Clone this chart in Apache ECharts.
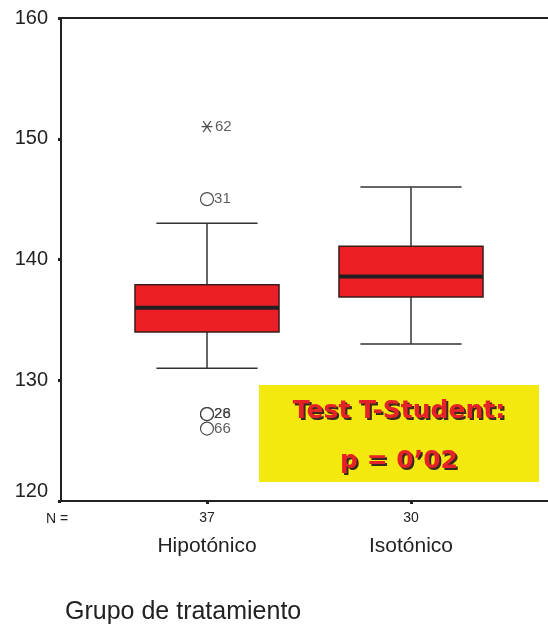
<!DOCTYPE html>
<html>
<head>
<meta charset="utf-8">
<script src="https://cdn.jsdelivr.net/npm/echarts@6/dist/echarts.min.js"></script>
<style>
html,body{margin:0;padding:0;background:#fff;}
#chart{width:548px;height:628px;}
</style>
</head>
<body>
<div id="chart"></div>
<script>
// ---- data ----
var categories = ['Hipotónico', 'Isotónico'];
var groupN = [37, 30];
var categoryPos = [1, 2];
// [low whisker, Q1, median, Q3, high whisker]
var boxHipotonico = [131, 134, 136, 137.9, 143];
var boxIsotonico = [133, 136.9, 138.6, 141.1, 146];
// outliers (Hipotónico): value, case id
var outlierValues = [145, 127.2, 127.2, 126];
var outlierIds = ['31', '28', '26', '66'];
// extreme values (Hipotónico)
var extremeValues = [151];
var extremeIds = ['62'];
var yTicks = [120, 130, 140, 150, 160];

var boxes = [boxHipotonico, boxIsotonico];
var boxData = boxes.map(function (b, i) { return [categoryPos[i]].concat(b); });
var outData = outlierValues.map(function (v, i) { return { value: [categoryPos[0], v], name: outlierIds[i] }; });
var extData = extremeValues.map(function (v, i) { return { value: [categoryPos[0], v], name: extremeIds[i] }; });

var chart = echarts.init(document.getElementById('chart'));
var FONT = 'Liberation Sans, Arial, sans-serif';
var BOXFONT = 'DejaVu Sans, Liberation Sans, sans-serif';

function renderBox(params, api) {
  var x = api.value(0);
  var low = api.coord([x, api.value(1)]);
  var q1 = api.coord([x, api.value(2)]);
  var med = api.coord([x, api.value(3)]);
  var q3 = api.coord([x, api.value(4)]);
  var high = api.coord([x, api.value(5)]);
  var halfW = api.size([0.353, 0])[0];
  var capW = api.size([0.248, 0])[0];
  var cx = q1[0];
  var lineStyle = { stroke: '#333', lineWidth: 1.5 };
  return {
    type: 'group',
    children: [
      { type: 'line', shape: { x1: cx, y1: q3[1], x2: cx, y2: high[1] }, style: lineStyle },
      { type: 'line', shape: { x1: cx, y1: q1[1], x2: cx, y2: low[1] }, style: lineStyle },
      { type: 'line', shape: { x1: cx - capW, y1: high[1], x2: cx + capW, y2: high[1] }, style: lineStyle },
      { type: 'line', shape: { x1: cx - capW, y1: low[1], x2: cx + capW, y2: low[1] }, style: lineStyle },
      { type: 'rect', shape: { x: cx - halfW, y: q3[1], width: halfW * 2, height: q1[1] - q3[1] },
        style: { fill: '#ed1f26', stroke: '#3a1c1c', lineWidth: 1.5 } },
      { type: 'line', shape: { x1: cx - halfW, y1: med[1], x2: cx + halfW, y2: med[1] },
        style: { stroke: '#231f20', lineWidth: 4 } }
    ]
  };
}

function boxText(txt, y, dx, dy, color, z) {
  return { type: 'text', x: 399 + dx, y: y + dy, z: z,
    style: { text: txt, fontSize: 25, fontWeight: 'bold', fill: color, align: 'center', verticalAlign: 'middle', fontFamily: BOXFONT } };
}

var option = {
  animation: false,
  backgroundColor: '#ffffff',
  textStyle: { fontFamily: FONT },
  grid: { left: 61, top: 18, width: 520, height: 483, outerBoundsMode: 'none', containLabel: false,
    show: true, borderColor: '#222', borderWidth: 2, backgroundColor: 'transparent' },
  xAxis: {
    type: 'value',
    min: 1 - 146 / 204,
    max: 1 + (581 - 207) / 204,
    splitLine: { show: false },
    axisLine: { show: true, onZero: false, lineStyle: { color: '#222', width: 2 } },
    axisTick: { show: true, customValues: categoryPos, length: 3, lineStyle: { color: '#222', width: 3 } },
    axisLabel: {
      customValues: categoryPos,
      margin: 8,
      formatter: function (v) {
        var i = categoryPos.indexOf(Math.round(v));
        if (i < 0) return '';
        return '{n|' + groupN[i] + '}\n{c|' + categories[i] + '}';
      },
      rich: {
        n: { fontSize: 14, lineHeight: 18, color: '#222', fontFamily: FONT },
        c: { fontSize: 21, lineHeight: 38, color: '#222', fontFamily: FONT }
      }
    }
  },
  yAxis: {
    type: 'value',
    min: 120, max: 160, interval: 10,
    splitLine: { show: false },
    axisLine: { show: true, lineStyle: { color: '#222', width: 2 } },
    axisTick: { show: true, length: 3, lineStyle: { color: '#222', width: 3 } },
    axisLabel: {
      fontSize: 20, color: '#222', margin: 13, fontFamily: FONT,
      verticalAlignMinLabel: 'bottom',
      formatter: function (v) { return yTicks.indexOf(v) >= 0 ? String(v) : ''; }
    }
  },
  title: {
    text: 'Grupo de tratamiento',
    left: 60, top: 595,
    textStyle: { fontSize: 25, fontWeight: 'normal', color: '#222', fontFamily: FONT }
  },
  graphic: [
    { type: 'text', left: 46, top: 512, style: { text: 'N =', fontSize: 14, fill: '#222', fontFamily: FONT } },
    { type: 'rect', shape: { x: 259, y: 385, width: 280, height: 97 }, style: { fill: '#f4e90f' }, z: 10 },
    boxText('Test T-Student:', 411, 2, 2, '#3b2b1b', 11),
    boxText('Test T-Student:', 411, 0, 0, '#e52228', 12),
    boxText('p = 0\u201902', 461, 2, 2, '#3b2b1b', 11),
    boxText('p = 0\u201902', 461, 0, 0, '#e52228', 12)
  ],
  series: [
    { type: 'custom', renderItem: renderBox, data: boxData, encode: { x: 0, y: [1, 2, 3, 4, 5] } },
    {
      type: 'scatter', data: outData, symbol: 'circle', symbolSize: 13,
      itemStyle: { color: '#ffffff', borderColor: '#222', borderWidth: 1.2 },
      label: { show: true, position: 'right', distance: 0, formatter: '{b}', fontSize: 15, color: '#333', fontFamily: FONT }
    },
    {
      type: 'scatter', data: extData,
      symbol: 'path://M0,5 L10,5 M1.5,1.5 L8.5,8.5 M8.5,1.5 L1.5,8.5', symbolSize: 11,
      itemStyle: { color: 'none', borderColor: '#222', borderWidth: 1.2 },
      label: { show: true, position: 'right', distance: 0, formatter: '{b}', fontSize: 15, color: '#333', fontFamily: FONT }
    }
  ]
};
chart.setOption(option);
</script>
</body>
</html>
